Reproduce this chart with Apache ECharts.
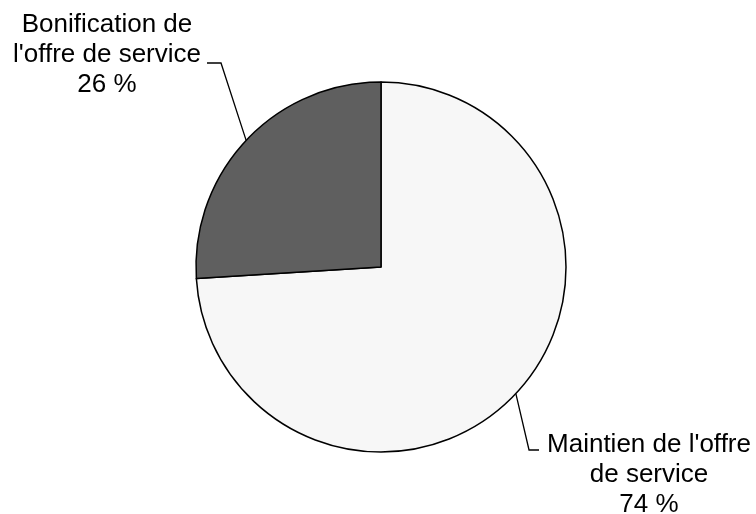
<!DOCTYPE html>
<html>
<head>
<meta charset="utf-8">
<style>
  html, body { margin: 0; padding: 0; background: #fff; }
  #chart { width: 756px; height: 514px; }
</style>
<script src="https://cdn.jsdelivr.net/npm/echarts@6/dist/echarts.min.js"></script>
</head>
<body>
<div id="chart"></div>
<script>
// données du graphique
var categories = ["Maintien de l'offre\nde service", "Bonification de\nl'offre de service"];
var values = [74, 26];
var colors = ['#f7f7f7', '#5f5f5f'];

// géométrie du camembert
var cx = 381, cy = 267, r = 185;
var fontSize = 26, lineH = 30;

var chart = echarts.init(document.getElementById('chart'));

chart.setOption({
  backgroundColor: '#fff',
  animation: false,
  series: [{
    type: 'pie',
    center: [cx, cy],
    radius: r,
    startAngle: 90,
    clockwise: true,
    data: categories.map(function (name, i) {
      return { name: name, value: values[i], itemStyle: { color: colors[i] } };
    }),
    itemStyle: { borderColor: '#000', borderWidth: 1.5 },
    label: {
      show: true,
      position: 'outside',
      formatter: '{b}\n{d} %',
      fontFamily: 'Liberation Sans, Arial, sans-serif',
      fontSize: fontSize,
      lineHeight: lineH,
      color: '#000',
      overflow: 'none',
      edgeDistance: 0
    },
    labelLine: {
      show: true,
      lineStyle: { color: '#000', width: 1.3 }
    },
    emphasis: { disabled: true },
    labelLayout: function (params) {
      var p0 = params.labelLinePoints ? params.labelLinePoints[0] : [cx, cy];
      var w = params.labelRect.width;
      if (params.dataIndex === 0) {
        // étiquette en bas à droite
        var x = cx + 268, y = cy + 208;
        var left = x - w / 2;
        var ly = y - 25;
        return {
          x: x, y: y, align: 'center', verticalAlign: 'middle',
          labelLinePoints: [p0, [left - 18, ly], [left - 8, ly]]
        };
      }
      // étiquette en haut à gauche
      var x2 = cx - 274, y2 = cy - 212;
      var right = x2 + w / 2;
      var ly2 = y2 + 8;
      return {
        x: x2, y: y2, align: 'center', verticalAlign: 'middle',
        labelLinePoints: [p0, [right + 20, ly2], [right + 6, ly2]]
      };
    }
  }]
});
</script>
</body>
</html>
